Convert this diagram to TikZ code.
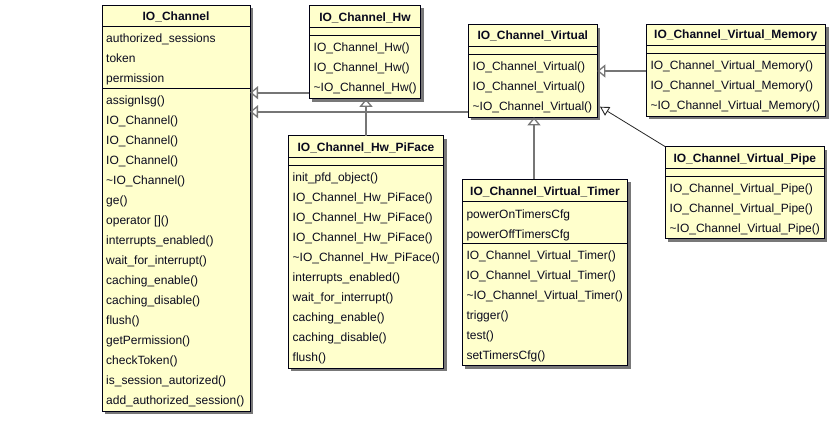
\documentclass[tikz,border=0pt]{standalone}
\usepackage{fontspec}
\setmainfont{Liberation Sans}
\usetikzlibrary{arrows.meta,shadows}
\definecolor{clsfill}{RGB}{255,255,204}
\definecolor{clsdraw}{RGB}{0,0,20}
\definecolor{linegray}{RGB}{118,118,118}
\definecolor{shadowgray}{RGB}{120,120,120}
\definecolor{txt}{RGB}{10,10,30}
\begin{document}
\begin{tikzpicture}[x=1pt,y=-1pt,
  cls/.style={draw=clsdraw, line width=1pt, fill=clsfill, anchor=north west, inner sep=0pt, outer sep=0pt,
    drop shadow={shadow xshift=3pt, shadow yshift=-3pt, fill=shadowgray, opacity=1}},
  ttl/.style={font=\fontsize{12}{14}\selectfont\bfseries, text=txt, anchor=base, inner sep=0pt},
  mem/.style={font=\fontsize{12}{14}\selectfont, text=txt, anchor=base west, inner sep=0pt},
  sepline/.style={draw=clsdraw, line width=1pt},
  inh/.style={draw=linegray, line width=2pt, -{Triangle[open, length=8pt, width=13pt, line width=1.3pt]}},
  inhthin/.style={draw=black!85, line width=0.8pt, -{Triangle[open, length=9pt, width=10pt, line width=0.9pt]}}]
\useasboundingbox[fill=white] (0,0) rectangle (840,426);

% ---------- IO_Channel ----------
\node[cls, minimum width=148pt, minimum height=406pt] (ch) at (102,5) {};
\node[ttl] (chT) at (176,20) {IO\_Channel};
\draw[sepline] (102,26) -- (250,26);
\draw[sepline] (102,88.5) -- (250,88.5);
\foreach \t [count=\i from 0] in {authorized\_sessions, token, permission}
  \node[mem] (cha\i) at (106,{42+20*\i}) {\t};
\foreach \t [count=\i from 0] in {assignIsg(), IO\_Channel(), IO\_Channel(), IO\_Channel(), \textasciitilde IO\_Channel(), ge(), operator []() , interrupts\_enabled(), wait\_for\_interrupt(), caching\_enable(), caching\_disable(), flush(), getPermission(), checkToken(), is\_session\_autorized(), add\_authorized\_session()}
  \node[mem] (chm\i) at (106,{104+20*\i}) {\t};

% ---------- IO_Channel_Hw ----------
\node[cls, minimum width=111.5pt, minimum height=93.5pt] (hw) at (309.3,5.3) {};
\node[ttl] (hwT) at (365,21) {IO\_Channel\_Hw};
\draw[sepline] (309.3,27.3) -- (420.8,27.3);
\draw[sepline] (309.3,35.3) -- (420.8,35.3);
\foreach \t [count=\i from 0] in {IO\_Channel\_Hw(), IO\_Channel\_Hw(), \textasciitilde IO\_Channel\_Hw()}
  \node[mem] (hwm\i) at (313.5,{51.5+20*\i}) {\t};

% ---------- IO_Channel_Virtual ----------
\node[cls, minimum width=129pt, minimum height=92.6pt] (vir) at (468.3,24.7) {};
\node[ttl] (virT) at (532.8,39.5) {IO\_Channel\_Virtual};
\draw[sepline] (468.3,46) -- (597.3,46);
\draw[sepline] (468.3,54) -- (597.3,54);
\foreach \t [count=\i from 0] in {IO\_Channel\_Virtual(), IO\_Channel\_Virtual(), \textasciitilde IO\_Channel\_Virtual()}
  \node[mem] (virm\i) at (472.5,{70.5+20*\i}) {\t};

% ---------- IO_Channel_Virtual_Memory ----------
\node[cls, minimum width=179.7pt, minimum height=92pt] (mem) at (646,24) {};
\node[ttl] (memT) at (735.8,38.8) {IO\_Channel\_Virtual\_Memory};
\draw[sepline] (646,45.3) -- (825.7,45.3);
\draw[sepline] (646,53.3) -- (825.7,53.3);
\foreach \t [count=\i from 0] in {IO\_Channel\_Virtual\_Memory(), IO\_Channel\_Virtual\_Memory(), \textasciitilde IO\_Channel\_Virtual\_Memory()}
  \node[mem] (memm\i) at (650.3,{69.5+20*\i}) {\t};

% ---------- IO_Channel_Hw_PiFace ----------
\node[cls, minimum width=155.4pt, minimum height=232.6pt] (pf) at (288.3,135.7) {};
\node[ttl] (pfT) at (366,151.5) {IO\_Channel\_Hw\_PiFace};
\draw[sepline] (288.3,157.3) -- (443.7,157.3);
\draw[sepline] (288.3,165.3) -- (443.7,165.3);
\foreach \t [count=\i from 0] in {init\_pfd\_object(), IO\_Channel\_Hw\_PiFace(), IO\_Channel\_Hw\_PiFace(), IO\_Channel\_Hw\_PiFace(), \textasciitilde IO\_Channel\_Hw\_PiFace(), interrupts\_enabled(), wait\_for\_interrupt(), caching\_enable(), caching\_disable(), flush()}
  \node[mem] (pfm\i) at (292.5,{181+20*\i}) {\t};

% ---------- IO_Channel_Virtual_Timer ----------
\node[cls, minimum width=165.4pt, minimum height=186.4pt] (tm) at (462.3,179.3) {};
\node[ttl] (tmT) at (545,195.3) {IO\_Channel\_Virtual\_Timer};
\draw[sepline] (462.3,201.7) -- (627.7,201.7);
\draw[sepline] (462.3,243.3) -- (627.7,243.3);
\foreach \t [count=\i from 0] in {powerOnTimersCfg, powerOffTimersCfg}
  \node[mem] (tma\i) at (466.3,{218+20*\i}) {\t};
\foreach \t [count=\i from 0] in {IO\_Channel\_Virtual\_Timer(), IO\_Channel\_Virtual\_Timer(), \textasciitilde IO\_Channel\_Virtual\_Timer(), trigger(), test(), setTimersCfg()}
  \node[mem] (tmm\i) at (466.3,{259+20*\i}) {\t};

% ---------- IO_Channel_Virtual_Pipe ----------
\node[cls, minimum width=159pt, minimum height=92pt] (pp) at (665.3,146.7) {};
\node[ttl] (ppT) at (744.8,162.5) {IO\_Channel\_Virtual\_Pipe};
\draw[sepline] (665.3,168.3) -- (824.3,168.3);
\draw[sepline] (665.3,176) -- (824.3,176);
\foreach \t [count=\i from 0] in {IO\_Channel\_Virtual\_Pipe(), IO\_Channel\_Virtual\_Pipe(), \textasciitilde IO\_Channel\_Virtual\_Pipe()}
  \node[mem] (ppm\i) at (669.5,{192.8+20*\i}) {\t};

% ---------- connectors ----------
\coordinate (yHw) at (0,92.7);
\coordinate (yVi) at (0,111.7);
\coordinate (yMe) at (0,71);
\coordinate (xPf) at (366,0);
\coordinate (xTm) at (534,0);
\coordinate (pipeTip) at (600,106.7);
\draw[inh] (hw.west |- yHw) -- (ch.east |- yHw);
\draw[inh] (vir.west |- yVi) -- (ch.east |- yVi);
\draw[inh] (xPf |- pf.north) -- (xPf |- hw.south);
\draw[inh] (mem.west |- yMe) -- (vir.east |- yMe);
\draw[inh] (xTm |- tm.north) -- (xTm |- vir.south);
\draw[inhthin] (pp.north west) -- (pipeTip);
\end{tikzpicture}
\end{document}
